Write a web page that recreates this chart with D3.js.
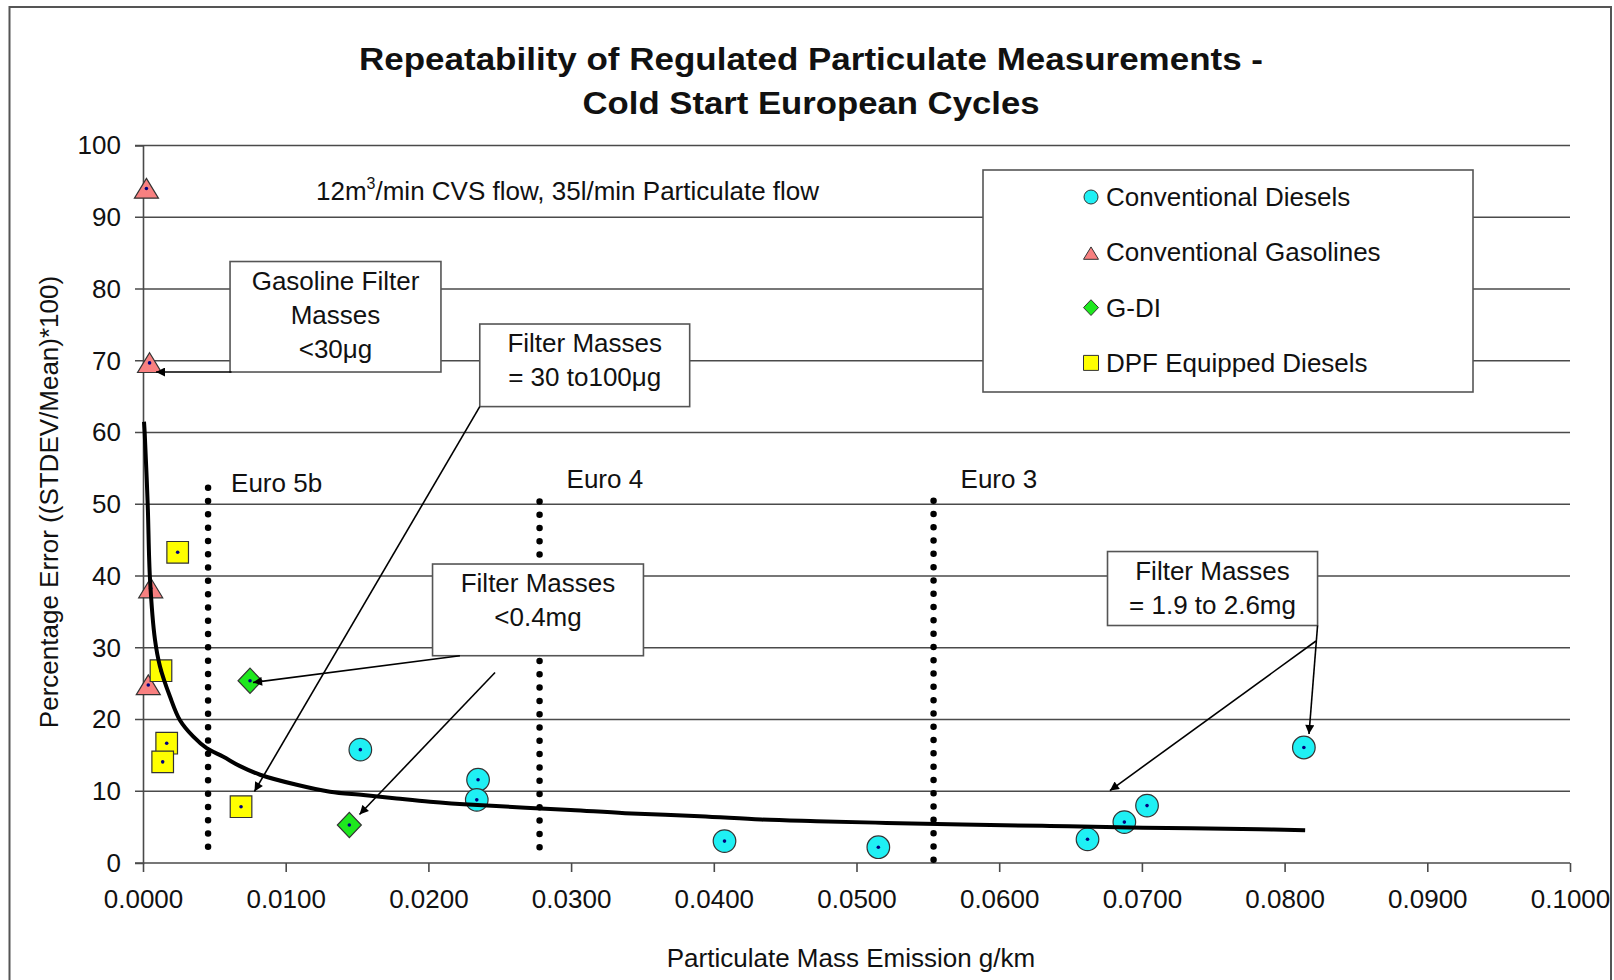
<!DOCTYPE html>
<html>
<head>
<meta charset="utf-8">
<script src="https://cdn.jsdelivr.net/npm/d3@7"></script>
<style>
body { margin: 0; background: #fff; }
svg { font-family: "Liberation Sans", Arial, sans-serif; }
</style>
</head>
<body>
<svg id="drawing_region"></svg>
<script>
// values
const dieselX = [0.01523, 0.02348, 0.02339, 0.04075, 0.05153, 0.06619, 0.06877, 0.07036, 0.08135];
const dieselY = [15.8, 11.6, 8.8, 3.05, 2.2, 3.3, 5.7, 8.0, 16.1];

const gasolineX = [0.00024, 0.00046, 0.00054, 0.00037];
const gasolineY = [94.0, 69.7, 38.3, 24.8];

const gdiX = [0.0075, 0.01446];
const gdiY = [25.4, 5.3];

const dpfX = [0.00243, 0.00126, 0.00166, 0.00138, 0.00687];
const dpfY = [43.3, 26.8, 16.7, 14.1, 7.85];

// trend line
const fitX = [0.00007, 0.00012, 0.00033, 0.00049, 0.00084, 0.00119, 0.00189, 0.00259, 0.00353, 0.00446,
              0.00563, 0.0068, 0.0082, 0.01077, 0.0131, 0.01544, 0.01778, 0.02011, 0.02345, 0.02996,
              0.03378, 0.03903, 0.04332, 0.0472, 0.0521, 0.05741, 0.06355, 0.07008, 0.07825, 0.08144];
const fitY = [61.5, 59.9, 49.95, 39.6, 31.1, 27.4, 23.2, 19.9, 17.6, 16.0,
              14.8, 13.5, 12.3, 10.9, 9.94, 9.48, 9.0, 8.55, 8.08, 7.39,
              6.95, 6.53, 6.06, 5.83, 5.59, 5.35, 5.17, 4.93, 4.70, 4.56];

const euroNames = ["Euro 5b", "Euro 4", "Euro 3"];
const euroX = [0.00456, 0.02779, 0.0554];
const euroTop = [52.3, 50.4, 50.5];
const euroBottom = [2.2, 2.2, 0];

const xTicks = [0, 0.01, 0.02, 0.03, 0.04, 0.05, 0.06, 0.07, 0.08, 0.09, 0.1];
const yTicks = [0, 10, 20, 30, 40, 50, 60, 70, 80, 90, 100];

const seriesNames = ["Conventional Diesels", "Conventional Gasolines", "G-DI", "DPF Equipped Diesels"];

const noteLines = [
    ["Gasoline Filter", "Masses", "<30μg"],
    ["Filter Masses", "= 30 to100μg"],
    ["Filter Masses", "<0.4mg"],
    ["Filter Masses", "= 1.9 to 2.6mg"]
];

class ScatterPlot {

    constructor( config ) {
        this.config = config;
        this.init();
    }

    init() {
        let self = this;

        self.svg = d3.select( self.config.parent )
            .attr('width', self.config.width)
            .attr('height', self.config.height);

        self.xscale = d3.scaleLinear()
            .domain( [0, 0.1] )
            .range( [self.config.plot.left, self.config.plot.right] );

        self.yscale = d3.scaleLinear()
            .domain( [0, 100] )
            .range( [self.config.plot.bottom, self.config.plot.top] );

        self.series = [
            { name: seriesNames[0], shape: 'circle',   fill: '#1ff0f4', xs: dieselX,   ys: dieselY },
            { name: seriesNames[1], shape: 'triangle', fill: '#f88080', xs: gasolineX, ys: gasolineY },
            { name: seriesNames[2], shape: 'diamond',  fill: '#1ee81e', xs: gdiX,      ys: gdiY },
            { name: seriesNames[3], shape: 'square',   fill: '#ffff00', xs: dpfX,      ys: dpfY }
        ];
    }

    // marker shapes, s = half size
    shapePath( shape, s ) {
        if (shape == 'triangle') return `M0,${-s*0.85} L${s},${s*0.8} L${-s},${s*0.8} Z`;
        if (shape == 'diamond') return `M0,${-s*1.05} L${s},0 L0,${s*1.05} L${-s},0 Z`;
        if (shape == 'square') return `M${-s},${-s} H${s} V${s} H${-s} Z`;
        return d3.arc()({innerRadius: 0, outerRadius: s, startAngle: 0, endAngle: 2*Math.PI});
    }

    render() {
        let self = this;
        const p = self.config.plot;
        const txt = 26;
        const markSize = { circle: 11.3, triangle: 12, diamond: 12, square: 10.8 };

        // outer frame
        self.svg.append('rect')
            .attr('x', 9.5).attr('y', 7)
            .attr('width', 1601.5).attr('height', 1000)
            .attr('fill', 'none')
            .attr('stroke', '#555')
            .attr('stroke-width', 2);

        // title
        const title = self.svg.append('text')
            .attr('text-anchor', 'middle')
            .attr('font-weight', 'bold')
            .attr('font-size', '32px')
            .attr('fill', '#111');
        title.append('tspan').attr('x', 811).attr('y', 70)
            .attr('textLength', 904).attr('lengthAdjust', 'spacingAndGlyphs')
            .text("Repeatability of Regulated Particulate Measurements -");
        title.append('tspan').attr('x', 811).attr('y', 114)
            .attr('textLength', 457).attr('lengthAdjust', 'spacingAndGlyphs')
            .text("Cold Start European Cycles");

        // gridlines
        self.svg.append('g').selectAll('line')
            .data(yTicks)
            .join('line')
            .attr('x1', p.left - 8)
            .attr('x2', p.right)
            .attr('y1', d => self.yscale(d))
            .attr('y2', d => self.yscale(d))
            .attr('stroke', '#4a4a4a')
            .attr('stroke-width', 1.6);

        // axes
        const xaxis = d3.axisBottom( self.xscale )
            .tickValues(xTicks)
            .tickFormat(d3.format('.4f'))
            .tickSize(9)
            .tickPadding(18);
        const xg = self.svg.append('g')
            .attr('transform', `translate(0, ${p.bottom})`)
            .call(xaxis);
        xg.select('.domain').remove();
        xg.selectAll('line').attr('stroke', '#4a4a4a').attr('stroke-width', 1.6);
        xg.selectAll('text').attr('font-size', txt + 'px').attr('fill', '#111').attr('font-family', null);

        const yaxis = d3.axisLeft( self.yscale )
            .tickValues(yTicks)
            .tickSize(8)
            .tickPadding(14);
        const yg = self.svg.append('g')
            .attr('transform', `translate(${p.left}, 0)`)
            .call(yaxis);
        yg.select('.domain').attr('stroke', '#4a4a4a').attr('stroke-width', 1.6);
        yg.selectAll('line').remove();
        yg.selectAll('text').attr('font-size', txt + 'px').attr('fill', '#111').attr('font-family', null);

        // axis titles
        self.svg.append('text')
            .attr('x', 851).attr('y', 967)
            .attr('text-anchor', 'middle')
            .attr('font-size', txt + 'px')
            .attr('fill', '#111')
            .text("Particulate Mass Emission g/km");

        self.svg.append('text')
            .attr('transform', 'rotate(-90)')
            .attr('x', -502).attr('y', 58)
            .attr('text-anchor', 'middle')
            .attr('font-size', txt + 'px')
            .attr('fill', '#111')
            .text("Percentage Error ((STDEV/Mean)*100)");

        // flow note
        const flow = self.svg.append('text')
            .attr('x', 316).attr('y', 200)
            .attr('font-size', txt + 'px')
            .attr('fill', '#111');
        flow.append('tspan').text("12m");
        flow.append('tspan').attr('font-size', '16px').attr('dy', -11).text("3");
        flow.append('tspan').attr('dy', 11).text("/min CVS flow, 35l/min Particulate flow");

        // markers
        self.series.forEach( s => {
            const pts = s.xs.map( (x, i) => ({x: x, y: s.ys[i]}) );
            const g = self.svg.append('g');
            g.selectAll('path')
                .data(pts)
                .join('path')
                .attr('transform', d => `translate(${self.xscale(d.x)}, ${self.yscale(d.y)})`)
                .attr('d', self.shapePath(s.shape, markSize[s.shape]))
                .attr('fill', s.fill)
                .attr('stroke', '#333')
                .attr('stroke-width', 1.2);
            g.selectAll('circle')
                .data(pts)
                .join('circle')
                .attr('cx', d => self.xscale(d.x))
                .attr('cy', d => self.yscale(d.y))
                .attr('r', 1.8)
                .attr('fill', '#000080');
        });

        // trend line
        const fit = fitX.map( (x, i) => [x, fitY[i]] );
        self.svg.append('path')
            .datum(fit)
            .attr('d', d3.line()
                .x(d => self.xscale(d[0]))
                .y(d => self.yscale(d[1]))
                .curve(d3.curveCatmullRom.alpha(0.5)))
            .attr('fill', 'none')
            .attr('stroke', '#000')
            .attr('stroke-width', 4);

        // euro limits
        euroNames.forEach( (name, i) => {
            self.svg.append('line')
                .attr('x1', self.xscale(euroX[i])).attr('x2', self.xscale(euroX[i]))
                .attr('y1', self.yscale(euroTop[i])).attr('y2', self.yscale(euroBottom[i]))
                .attr('stroke', '#000')
                .attr('stroke-width', 6.5)
                .attr('stroke-linecap', 'round')
                .attr('stroke-dasharray', '0 13.3');
            self.svg.append('text')
                .attr('x', self.xscale(euroX[i]) + (i == 0 ? 23 : 27))
                .attr('y', i == 0 ? 492 : 488)
                .attr('font-size', txt + 'px')
                .attr('fill', '#111')
                .text(name);
        });

        // arrow head
        self.svg.append('defs').append('marker')
            .attr('id', 'arrow')
            .attr('viewBox', '0 0 10 10')
            .attr('refX', 10).attr('refY', 5)
            .attr('markerWidth', 11).attr('markerHeight', 9)
            .attr('markerUnits', 'userSpaceOnUse')
            .attr('orient', 'auto')
            .append('path')
            .attr('d', 'M0,0 L10,5 L0,10 Z')
            .attr('fill', '#000');

        // call-out boxes, corners and arrows in data units
        const notes = [
            { box: [0.0061, 0.02088, 83.83, 68.43], arrows: [[[0.0062, 68.43], [0.00091, 68.43]]] },
            { box: [0.0236, 0.03831, 75.12, 63.61], arrows: [[[0.0236, 63.61], [0.00781, 9.98]]] },
            { box: [0.02029, 0.03507, 41.67, 28.89], arrows: [[[0.02221, 28.89], [0.00771, 25.16]],
                                                             [[0.02467, 26.55], [0.01517, 6.76]]] },
            { box: [0.06759, 0.08231, 43.41, 33.1], arrows: [[[0.08231, 33.1], [0.08171, 17.98]],
                                                            [[0.0822, 30.94], [0.06776, 10.1]]] }
        ];

        notes.forEach( (n, i) => {
            const x0 = self.xscale(n.box[0]), x1 = self.xscale(n.box[1]);
            const y0 = self.yscale(n.box[2]), y1 = self.yscale(n.box[3]);
            self.svg.append('rect')
                .attr('x', x0).attr('y', y0)
                .attr('width', x1 - x0).attr('height', y1 - y0)
                .attr('fill', '#fff')
                .attr('stroke', '#555')
                .attr('stroke-width', 1.6);
            self.svg.append('g').selectAll('text')
                .data(noteLines[i])
                .join('text')
                .attr('x', (x0 + x1) / 2)
                .attr('y', (d, j) => y0 + 28 + j * 34)
                .attr('text-anchor', 'middle')
                .attr('font-size', txt + 'px')
                .attr('fill', '#111')
                .text(d => d);
            n.arrows.forEach( a => {
                self.svg.append('line')
                    .attr('x1', self.xscale(a[0][0])).attr('y1', self.yscale(a[0][1]))
                    .attr('x2', self.xscale(a[1][0])).attr('y2', self.yscale(a[1][1]))
                    .attr('stroke', '#000')
                    .attr('stroke-width', 1.6)
                    .attr('marker-end', 'url(#arrow)');
            });
        });

        // legend
        const lg = self.svg.append('g');
        lg.append('rect')
            .attr('x', 983).attr('y', 170)
            .attr('width', 490).attr('height', 222)
            .attr('fill', '#fff')
            .attr('stroke', '#555')
            .attr('stroke-width', 1.6);
        self.series.forEach( (s, i) => {
            const cy = 197 + i * 55.3;
            lg.append('path')
                .attr('transform', `translate(1091, ${cy + (s.shape == 'triangle' ? 1 : 0)})`)
                .attr('d', self.shapePath(s.shape, s.shape == 'circle' ? 7 : 7.5))
                .attr('fill', s.fill)
                .attr('stroke', '#333')
                .attr('stroke-width', 1);
            lg.append('text')
                .attr('x', 1106).attr('y', cy + 9)
                .attr('font-size', txt + 'px')
                .attr('fill', '#111')
                .text(s.name);
        });
    }
}

const config = {
    parent: '#drawing_region',
    width: 1614,
    height: 980,
    plot: {left: 143, right: 1570, top: 145.5, bottom: 863}
};

const scatter_plot = new ScatterPlot( config );
scatter_plot.render();
</script>
</body>
</html>
